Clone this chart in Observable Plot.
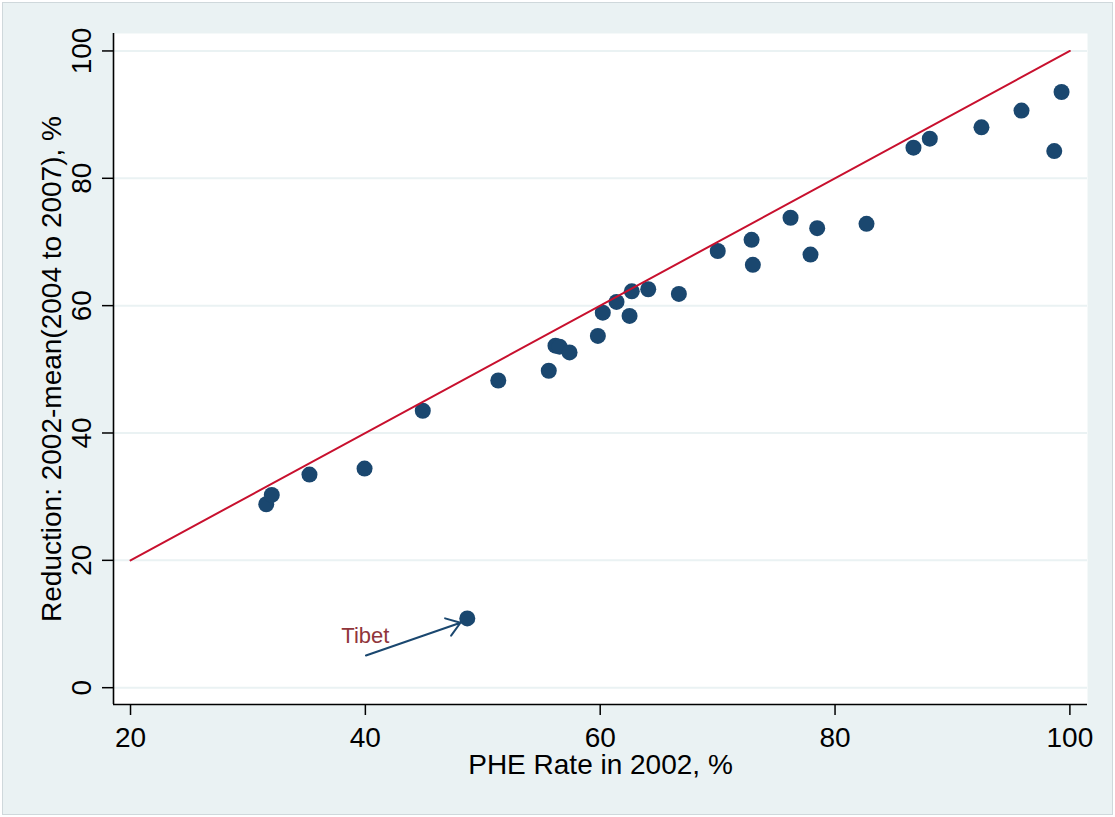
<!DOCTYPE html>
<html><head><meta charset="utf-8">
<script src="https://cdn.jsdelivr.net/npm/d3@7"></script>
<script src="https://cdn.jsdelivr.net/npm/@observablehq/plot@0.6"></script>
<style>
body{margin:0;background:#fff;color:#000;}
#wrap{position:relative;width:1115px;height:817px;background:#fff;overflow:hidden;}
#bg{position:absolute;left:2px;top:2px;width:1109px;height:811px;background:#EAF2F3;border:1px solid #CFD8DB;}
#chart{position:absolute;left:0;top:0;}
</style></head><body>
<div id="wrap"><div id="bg"></div><div id="chart"></div></div>
<script>
// PHE rate in 2002 (%) per province
const phe2002 = [31.56, 32.03, 35.24, 39.93, 44.89, 51.32, 55.62, 56.19, 56.54, 57.39,
  59.80, 60.22, 61.39, 62.50, 62.69, 64.09, 66.70, 70.01, 72.89, 73.00,
  76.21, 77.91, 78.48, 82.68, 86.68, 88.07, 92.47, 95.88, 98.67, 99.29, 48.68];
// Reduction: 2002 - mean(2004 to 2007), %
const reduction = [28.81, 30.28, 33.47, 34.41, 43.49, 48.24, 49.78, 53.71, 53.55, 52.66,
  55.24, 58.90, 60.59, 58.38, 62.25, 62.57, 61.84, 68.58, 70.34, 66.41,
  73.80, 68.02, 72.16, 72.85, 84.81, 86.22, 88.00, 90.63, 84.27, 93.55, 10.88];
// 45-degree reference line
const refX = [20, 100];
const refY = [20, 100];
// Annotation
const noteText = ["Tibet"];
const noteX = [40];
const noteY = [8.1];
const arrowX1 = [40.05], arrowY1 = [5.05], arrowX2 = [48.1], arrowY2 = [10.2];
// Axes
const xTicks = [20, 40, 60, 80, 100];
const yTicks = [0, 20, 40, 60, 80, 100];
const xDomain = [18.55, 101.5];
const yDomain = [-2.64, 102.74];
const xTitle = ["PHE Rate in 2002, %"];
const yTitle = ["Reduction: 2002-mean(2004 to 2007), %"];

const points = phe2002.map((x, i) => ({x, y: reduction[i]}));
const refLine = refX.map((x, i) => ({x, y: refY[i]}));

const fs = 28;
const chart = Plot.plot({
  width: 1115, height: 817,
  marginLeft: 113, marginRight: 28, marginTop: 33, marginBottom: 113,
  style: {background: "transparent", fontFamily: "'Liberation Sans', Arial, sans-serif", color: "#000", overflow: "visible"},
  x: {domain: xDomain},
  y: {domain: yDomain},
  marks: [
    Plot.frame({fill: "white", stroke: "none"}),
    Plot.gridY(yTicks, {stroke: "#EAF2F3", strokeOpacity: 1, strokeWidth: 2}),
    Plot.dot(points, {x: "x", y: "y", r: 8, fill: "#1A476F", stroke: "none"}),
    Plot.line(refLine, {x: "x", y: "y", stroke: "#C8102E", strokeWidth: 2}),
    Plot.arrow(arrowX1, {x1: arrowX1, y1: arrowY1, x2: arrowX2, y2: arrowY2, stroke: "#1A476F", strokeWidth: 2, headLength: 12, headAngle: 70}),
    Plot.text(noteText, {x: noteX, y: noteY, text: d => d, fill: "#90353B", fontSize: 22, textAnchor: "middle", lineAnchor: "middle"}),
    Plot.ruleX([xDomain[0]], {stroke: "#000", strokeWidth: 1.6}),
    Plot.ruleY([yDomain[0]], {stroke: "#000", strokeWidth: 1.6}),
    Plot.axisX(xTicks, {tickSize: 11, tickPadding: 12, fontSize: fs, label: null, strokeWidth: 1.5}),
    Plot.axisY(yTicks, {tickSize: 11, tickPadding: 12, tickRotate: -90, fontSize: fs, label: null, strokeWidth: 1.5}),
    Plot.text(xTitle, {frameAnchor: "bottom", dy: 69.5, text: d => d, lineAnchor: "bottom", textAnchor: "middle", fontSize: fs}),
    Plot.text(yTitle, {frameAnchor: "left", dx: -53, text: d => d, rotate: -90, lineAnchor: "bottom", textAnchor: "middle", fontSize: fs})
  ]
});
document.getElementById("chart").appendChild(chart);
</script>
</body></html>
